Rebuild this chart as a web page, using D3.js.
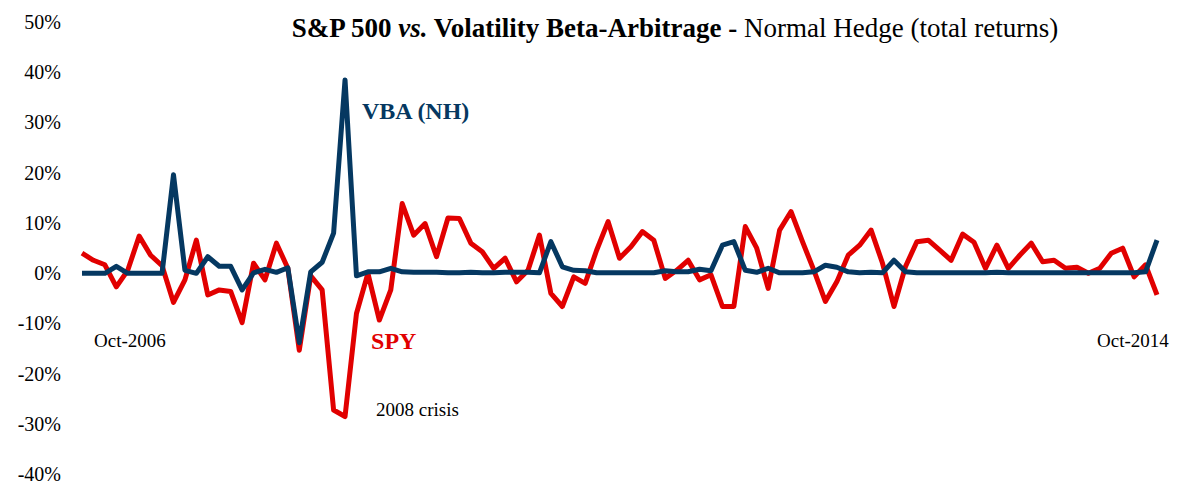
<!DOCTYPE html>
<html>
<head>
<meta charset="utf-8">
<script src="https://cdn.jsdelivr.net/npm/d3@7"></script>
<style>
  body { margin: 0; background: #fff; }
  svg { display: block; font-family: "Liberation Serif", "Times New Roman", serif; }
</style>
</head>
<body>
<svg id="chart" width="1180" height="485"></svg>
<script>
// monthly total returns (%), first point Oct-2006
const spy = [4.0, 2.6, 1.7, -2.7, 0.6, 7.4, 3.6, 1.5, -5.8, -1.3,
             6.6, -4.3, -3.3, -3.6, -9.8, 2.0, -1.3, 6.0, 1.0, -15.3,
             -0.5, -3.3, -27.2, -28.5, -8.0, 0.0, -9.3, -3.3, 13.9, 7.6,
             9.9, 3.3, 11.0, 10.9, 6.0, 4.3, 1.0, 3.0, -1.7, 0.6,
             7.6, -4.0, -6.6, -0.7, -2.0, 4.6, 10.3, 3.0, 5.3, 8.3,
             6.6, -1.0, 0.6, 2.6, -1.3, -0.3, -6.6, -6.6, 9.3, 5.0,
             -3.0, 8.6, 12.3, 6.3, 0.6, -5.6, -1.7, 3.6, 5.6, 8.6,
             2.0, -6.6, 1.3, 6.3, 6.6, 4.6, 2.6, 7.8, 6.2, 1.0,
             5.6, 1.0, 3.6, 6.0, 2.3, 2.6, 1.0, 1.2, 0.0, 1.0,
             4.0, 5.0, -0.7, 1.7, -4.3];

const vba = [0.0, 0.0, 0.0, 1.4, 0.0, 0.0, 0.0, 0.0, 19.6, 0.6,
             0.0, 3.3, 1.4, 1.4, -3.3, 0.1, 0.8, 0.2, 1.1, -13.8,
             0.3, 2.2, 8.0, 38.5, -0.5, 0.3, 0.3, 1.0, 0.3, 0.2,
             0.2, 0.2, 0.1, 0.1, 0.2, 0.1, 0.1, 0.2, 0.2, 0.2,
             0.1, 6.3, 1.3, 0.6, 0.5, 0.1, 0.1, 0.1, 0.1, 0.1,
             0.1, 0.5, 0.3, 0.3, 0.8, 0.5, 5.6, 6.3, 0.6, 0.2,
             1.0, 0.1, 0.1, 0.1, 0.3, 1.6, 1.2, 0.3, 0.1, 0.2,
             0.1, 2.6, 0.3, 0.1, 0.1, 0.1, 0.1, 0.1, 0.1, 0.1,
             0.2, 0.1, 0.1, 0.1, 0.1, 0.1, 0.1, 0.1, 0.1, 0.1,
             0.1, 0.1, 0.1, 0.3, 6.6];

const yTicks = [-40, -30, -20, -10, 0, 10, 20, 30, 40, 50];
const endLabels = ["Oct-2006", "Oct-2014"];

const red = "#e10000";
const navy = "#053861";

const svg = d3.select("#chart");

const x = d3.scaleLinear()
    .domain([0, spy.length - 1])
    .range([82, 1157]);

const y = d3.scaleLinear()
    .domain([-40, 50])
    .range([474.3, 22.1]);

// y axis: labels only
const yAxis = svg.append("g")
    .attr("transform", "translate(63,0)")
    .call(d3.axisLeft(y)
        .tickValues(yTicks)
        .tickSize(0)
        .tickPadding(2)
        .tickFormat(d => d + "%"));
yAxis.select(".domain").remove();
yAxis.selectAll("text")
    .style("font-family", "Liberation Serif")
    .style("font-size", "20px")
    .attr("fill", "#000");

const line = d3.line()
    .x((d, i) => x(i))
    .y(d => y(d));

svg.append("path")
    .datum(spy)
    .attr("d", line)
    .attr("fill", "none")
    .attr("stroke", red)
    .attr("stroke-width", 5)
    .attr("stroke-linejoin", "round");

svg.append("path")
    .datum(vba)
    .attr("d", line)
    .attr("fill", "none")
    .attr("stroke", navy)
    .attr("stroke-width", 5)
    .attr("stroke-linejoin", "round");

// title
const title = svg.append("text")
    .attr("x", 675)
    .attr("y", 37)
    .attr("text-anchor", "middle")
    .style("font-size", "27px")
    .attr("fill", "#000");
title.append("tspan").attr("font-weight", "bold").text("S&P 500 ");
title.append("tspan").attr("font-weight", "bold").attr("font-style", "italic").text("vs.");
title.append("tspan").attr("font-weight", "bold").text(" Volatility Beta-Arbitrage - ");
title.append("tspan").text("Normal Hedge (total returns)");

// series labels
svg.append("text")
    .attr("x", x(23) + 17)
    .attr("y", 119)
    .style("font-size", "24px")
    .attr("font-weight", "bold")
    .attr("fill", navy)
    .text("VBA (NH)");

svg.append("text")
    .attr("x", x(23) + 26)
    .attr("y", 349)
    .style("font-size", "24px")
    .attr("font-weight", "bold")
    .attr("fill", red)
    .text("SPY");

svg.append("text")
    .attr("x", x(23) + 31)
    .attr("y", 416)
    .style("font-size", "19px")
    .attr("fill", "#000")
    .text("2008 crisis");

// first / last month labels
svg.selectAll(".end-label")
    .data(endLabels)
    .enter()
    .append("text")
    .attr("class", "end-label")
    .attr("x", (d, i) => i === 0 ? x(0) + 48 : x(spy.length - 1) - 24)
    .attr("y", 347)
    .attr("text-anchor", "middle")
    .style("font-size", "19px")
    .attr("fill", "#000")
    .text(d => d);
</script>
</body>
</html>
